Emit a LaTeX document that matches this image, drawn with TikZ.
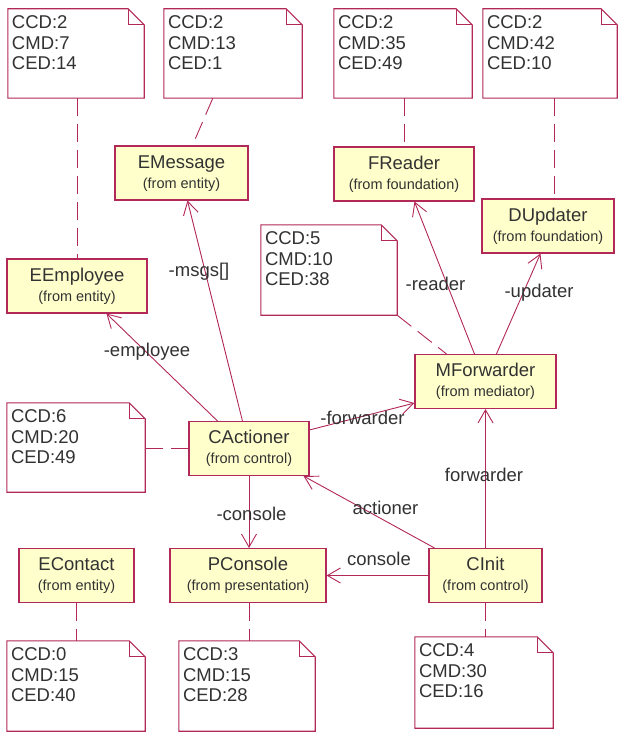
\documentclass[tikz,border=0pt]{standalone}
\usepackage{fontspec}
\setmainfont{Liberation Sans}
\usetikzlibrary{arrows.meta}
\definecolor{rose}{RGB}{178,40,88}
\definecolor{clsfill}{RGB}{255,255,204}
\definecolor{txt}{RGB}{50,50,50}
\tikzset{
 cls/.style={draw=rose, fill=clsfill, line width=1.1pt, inner sep=0pt},
 clsname/.style={anchor=base, font=\fontsize{18.5}{20}\selectfont, text=txt, inner sep=0pt},
 clssub/.style={anchor=base, font=\fontsize{14.5}{16}\selectfont, text=txt, inner sep=0pt},
 notebox/.style={inner sep=0pt},
 noteline/.style={draw=rose, fill=white, line width=1.1pt, line join=miter},
 notetext/.style={anchor=north west, align=left, font=\fontsize{18.5}{20.7}\selectfont, text=txt, inner sep=0pt},
 assoc/.style={draw=rose, line width=0.9pt, -{Straight Barb[length=13pt,width=15pt,line width=0.9pt]}},
 anchorline/.style={draw=rose, line width=0.9pt, dash pattern=on 18pt off 8pt},
 lbl/.style={font=\fontsize{18.5}{20}\selectfont, text=txt, inner sep=0pt},
}
\newcommand\umlclass[6]{%
 \node[cls, minimum width=#4pt, minimum height=54pt] (#1) at (#2,#3) {};
 \node[clsname] (#1-t) at ([yshift=-23pt]#1.north) {#5};
 \node[clssub] (#1-s) at ([yshift=-43pt]#1.north) {#6};
}
\newcommand\umlnote[6]{%
 \node[notebox, minimum width={(#4-#2)*1pt}, minimum height={(#5-#3)*1pt}] (#1) at ({(#2+#4)/2},{(#3+#5)/2}) {};
 \path[noteline] (#1.north west) -- ([xshift=-16pt]#1.north east) -- ([yshift=-16pt]#1.north east) -- (#1.south east) -- (#1.south west) -- cycle;
 \draw[rose, line width=1.1pt] ([xshift=-16pt]#1.north east) |- ([yshift=-16pt]#1.north east);
 \node[notetext] (#1-t) at ([xshift=4pt,yshift=-6.5pt]#1.north west) {#6};
}
\begin{document}
\begin{tikzpicture}[x=1pt,y=-1pt]
\useasboundingbox[fill=white] (0,0) rectangle (618,733);

% classes
\umlclass{EMessage}{181.5}{173}{133}{EMessage}{(from entity)}
\umlclass{EEmployee}{77}{286}{140}{EEmployee}{(from entity)}
\umlclass{FReader}{404}{174}{140}{FReader}{(from foundation)}
\umlclass{DUpdater}{548}{226}{132}{DUpdater}{(from foundation)}
\umlclass{MForwarder}{485.5}{381.5}{141}{MForwarder}{(from mediator)}
\umlclass{CActioner}{249}{448.5}{120}{CActioner}{(from control)}
\umlclass{PConsole}{248}{575.5}{156}{PConsole}{(from presentation)}
\umlclass{EContact}{76.5}{575.5}{115}{EContact}{(from entity)}
\umlclass{CInit}{485.5}{575.5}{113}{CInit}{(from control)}

% notes
\umlnote{n1}{8}{9}{144}{98}{CCD:2\\CMD:7\\CED:14}
\umlnote{n2}{164}{9}{302}{98}{CCD:2\\CMD:13\\CED:1}
\umlnote{n3}{334}{9}{472}{98}{CCD:2\\CMD:35\\CED:49}
\umlnote{n4}{483}{9}{617}{98}{CCD:2\\CMD:42\\CED:10}
\umlnote{n5}{261}{225}{397}{315}{CCD:5\\CMD:10\\CED:38}
\umlnote{n6}{7}{403}{145}{492}{CCD:6\\CMD:20\\CED:49}
\umlnote{n7}{7}{641}{145}{731}{CCD:0\\CMD:15\\CED:40}
\umlnote{n8}{179}{641}{315}{731}{CCD:3\\CMD:15\\CED:28}
\umlnote{n9}{415}{637}{553}{728}{CCD:4\\CMD:30\\CED:16}

% note anchors (dashed)
\draw[anchorline] ([xshift=1pt]n1.south) -- ([xshift=1pt]n1.south |- EEmployee.north);
\draw[anchorline] ([xshift=49pt]n2.south west) -- ([xshift=78pt]EMessage.north west);
\draw[anchorline] (n3.south -| FReader.north) -- (FReader.north);
\draw[anchorline] ([xshift=4pt]n4.south) -- ([xshift=4pt]n4.south |- DUpdater.north);
\draw[anchorline] (n5.south east) -- ([xshift=32pt]MForwarder.north west);
\draw[anchorline] (n6.east |- CActioner.west) -- (CActioner.west);
\draw[anchorline] (EContact.south) -- (EContact.south |- n7.north);
\draw[anchorline] (CActioner.south |- PConsole.south) -- (CActioner.south |- n8.north);
\draw[anchorline] (CInit.south) -- (CInit.south |- n9.north);

% associations
\draw[assoc] ([xshift=29pt]CActioner.north west) -- ([xshift=100pt]EEmployee.south west);
\draw[assoc] ([xshift=54pt]CActioner.north west) -- ([xshift=73pt]EMessage.south west);
\draw[assoc] ([xshift=60pt]MForwarder.north west) -- ([xshift=81pt]FReader.south west);
\draw[assoc] ([xshift=82pt]MForwarder.north west) -- ([xshift=59pt]DUpdater.south west);
\draw[assoc] ([yshift=-9pt]CActioner.north east) -- ([yshift=6pt]MForwarder.south west);
\draw[assoc] (CInit.north) -- (MForwarder.south);
\draw[assoc] ([xshift=6pt]CInit.north west) -- ([xshift=-6pt]CActioner.south east);
\draw[assoc] (CInit.west) -- (PConsole.east);
\draw[assoc] (CActioner.south) -- (CActioner.south |- PConsole.north);

% labels
\node[lbl] (l1) at (199,272) {-msgs[]};
\node[lbl] (l2) at (147,351.5) {-employee};
\node[lbl] (l3) at (435.5,284) {-reader};
\node[lbl] (l4) at (539,292.5) {-updater};
\node[lbl] (l5) at (362.5,418) {-forwarder};
\node[lbl] (l6) at (484,475) {forwarder};
\node[lbl] (l7) at (385.5,508) {actioner};
\node[lbl] (l8) at (379,559) {console};
\node[lbl] (l9) at (251.5,513.5) {-console};
\end{tikzpicture}
\end{document}
